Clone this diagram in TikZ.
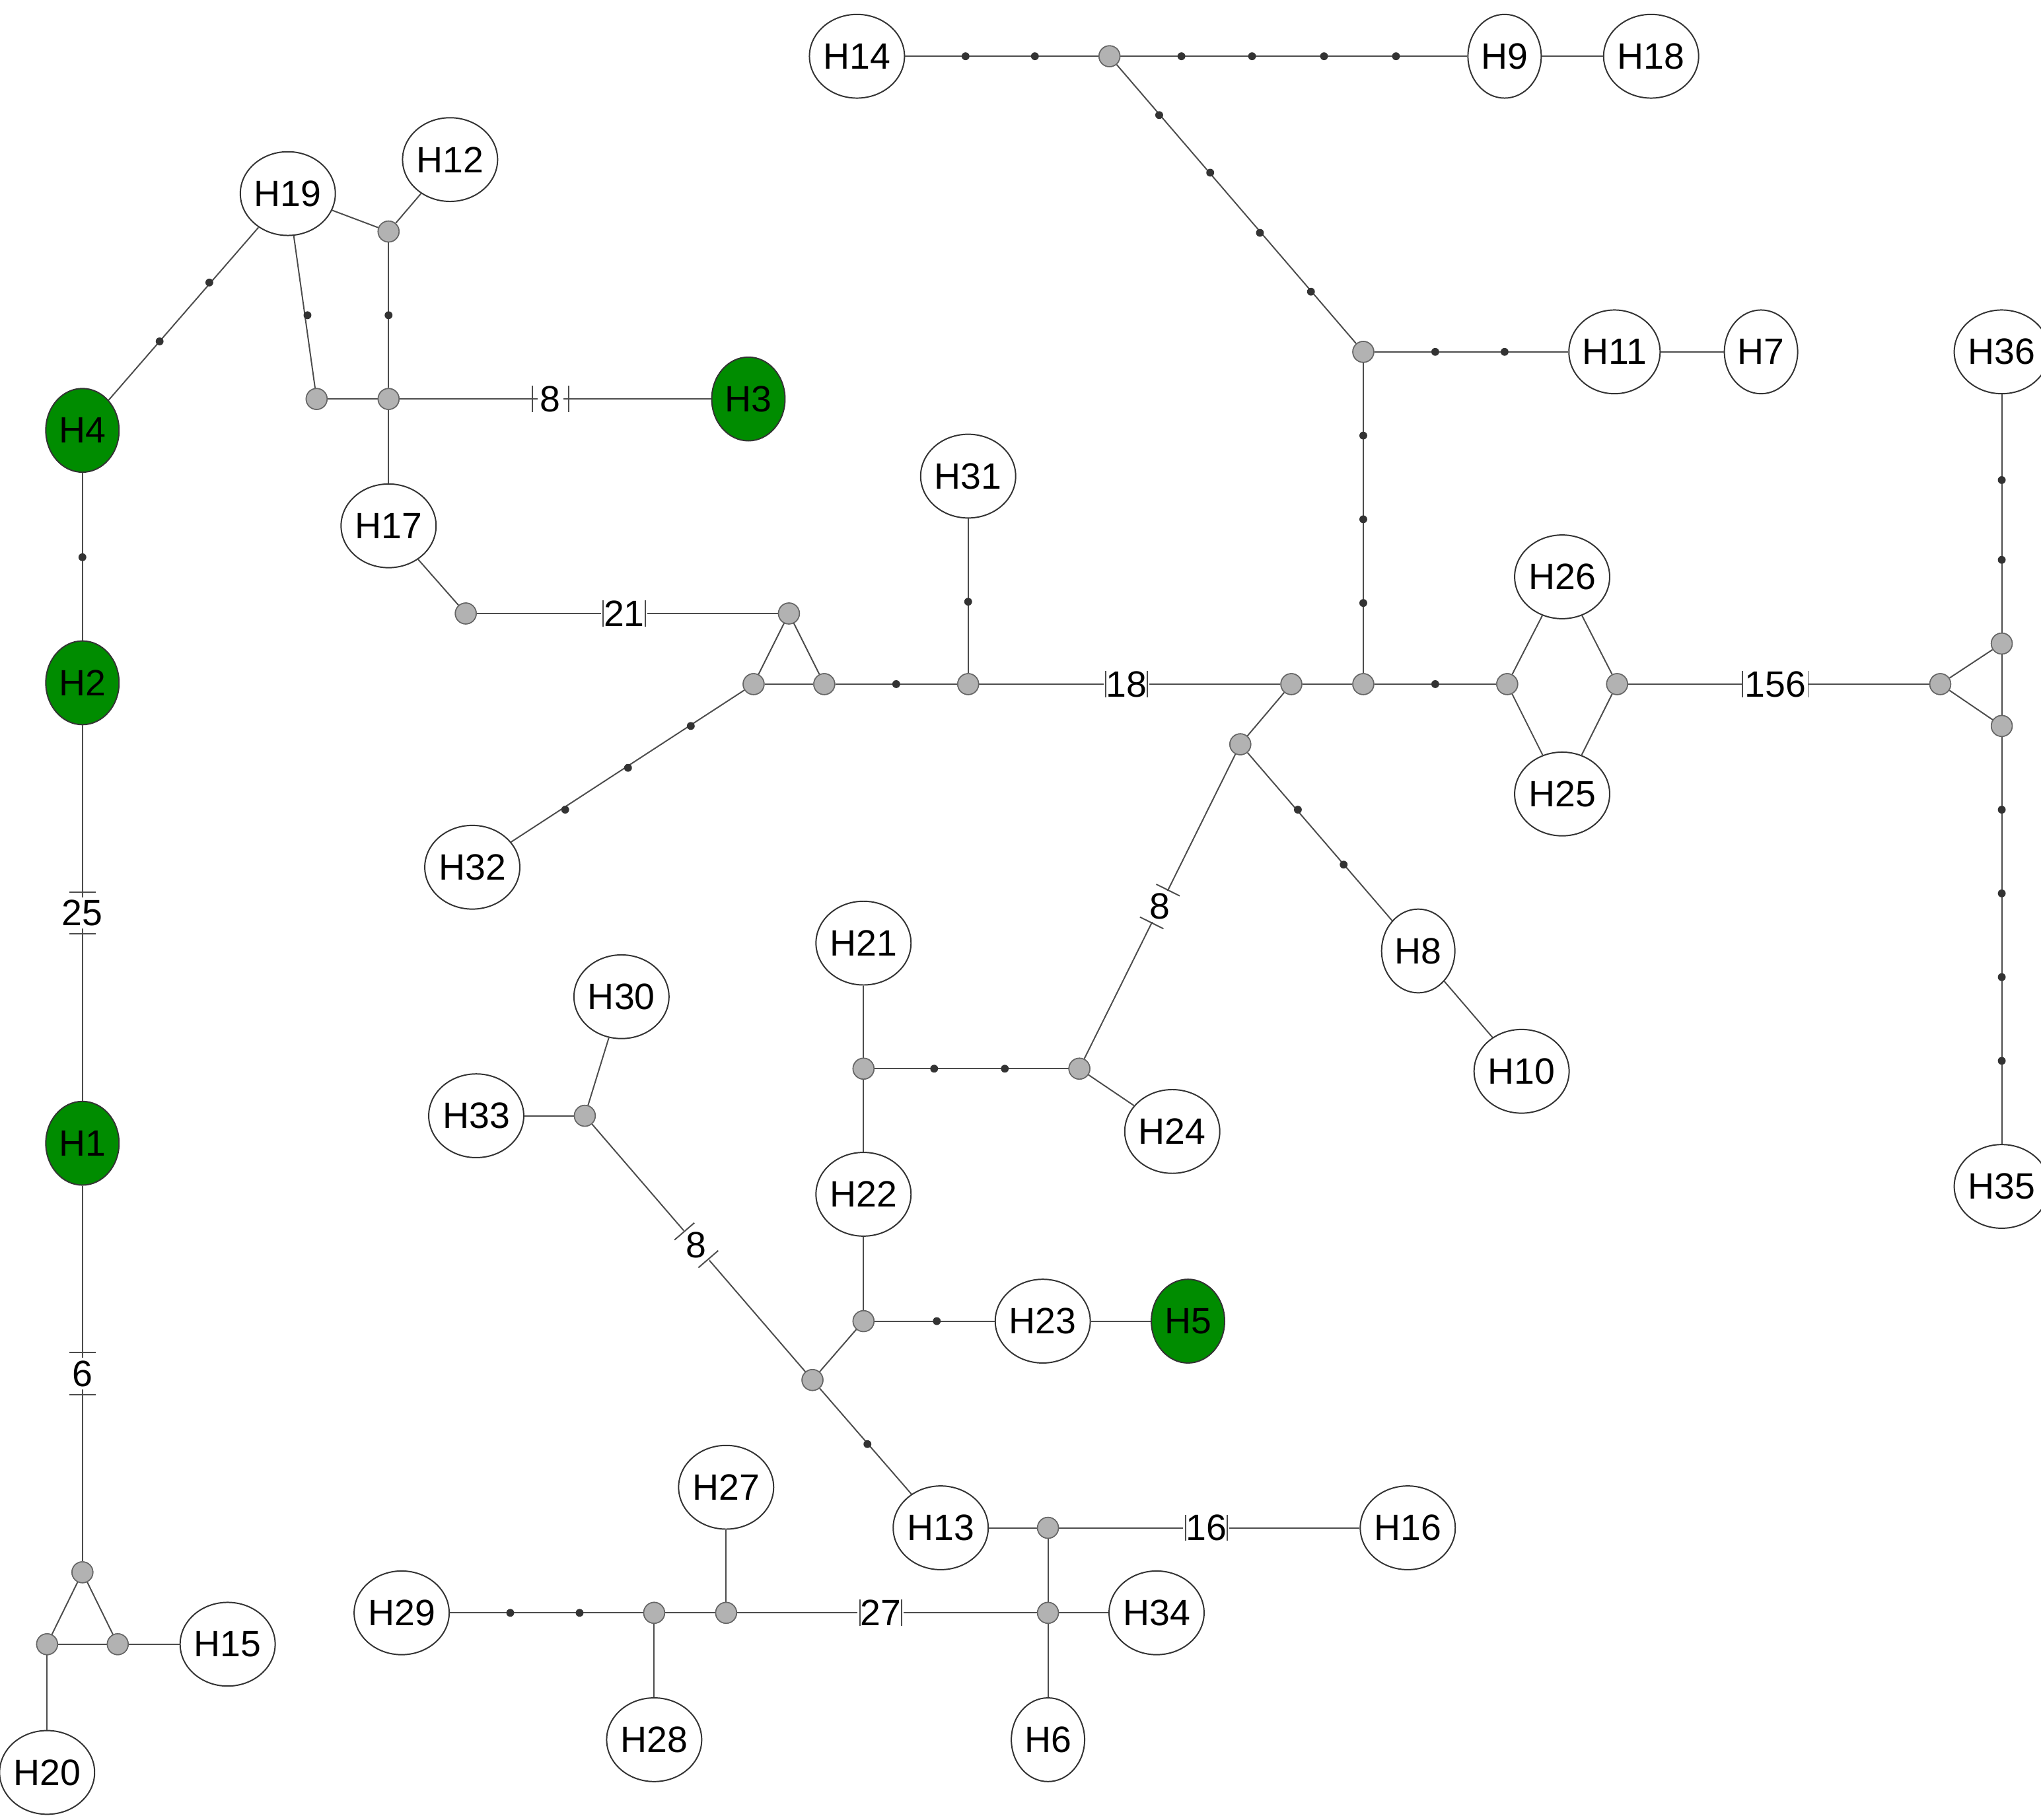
\documentclass[tikz,border=0pt]{standalone}
\usepackage{fontspec}
\setmainfont{Liberation Sans}
\usetikzlibrary{calc,shapes.geometric}
\tikzset{
 hap/.style={ellipse,draw=black!80,line width=0.5pt,fill=white,minimum width=28pt,minimum height=32pt,inner sep=0pt,font=\fontsize{14}{14}\selectfont},
 grn/.style={hap,fill=green!55!black},
 mv/.style={circle,draw=black!60,fill=black!30,line width=0.4pt,minimum size=8pt,inner sep=0pt},
 ln/.style={draw=black!70,line width=0.5pt},
 mutlab/.style={fill=white,inner sep=1pt,font=\fontsize{14}{14}\selectfont},
 dt/.style={fill=black!80}
}
\newcommand\mutl[5]{%
 \coordinate (mm) at ($(#1)!#3!(#2)$);
 \node[mutlab] at (mm) {#4};
 \draw[ln] ($(mm)!#5!(#1)!5pt!90:(#1)$) -- ($(mm)!#5!(#1)!5pt!-90:(#1)$);
 \draw[ln] ($(mm)!#5!(#2)!5pt!90:(#2)$) -- ($(mm)!#5!(#2)!5pt!-90:(#2)$);
}
\newcommand\dd[2]{\fill[dt] (#1,#2) circle (1.5pt);}
\begin{document}
\begin{tikzpicture}[x=0.5pt,y=-0.5pt]
\useasboundingbox (0,0) rectangle (1560,1391);
% nodes
\node[hap] (H14) at (655,43) {H14};
\node[hap] (H9) at (1150,43) {H9};
\node[hap] (H18) at (1262,43) {H18};
\node[hap] (H11) at (1234,269) {H11};
\node[hap] (H7) at (1346,269) {H7};
\node[hap] (H31) at (740,364) {H31};
\node[hap] (H26) at (1194,441) {H26};
\node[hap] (H25) at (1194,607) {H25};
\node[hap] (H36) at (1530,269) {H36};
\node[hap] (H35) at (1530,907) {H35};
\node[hap] (H32) at (361,663) {H32};
\node[hap] (H8) at (1084,727) {H8};
\node[hap] (H10) at (1163,819) {H10};
\node[hap] (H24) at (896,865) {H24};
\node[hap] (H21) at (660,721) {H21};
\node[hap] (H22) at (660,913) {H22};
\node[hap] (H23) at (797,1010) {H23};
\node[grn] (H5) at (908,1010) {H5};
\node[hap] (H33) at (364,853) {H33};
\node[hap] (H30) at (475,762) {H30};
\node[hap] (H13) at (719,1168) {H13};
\node[hap] (H16) at (1076,1168) {H16};
\node[hap] (H34) at (884,1233) {H34};
\node[hap] (H6) at (801,1330) {H6};
\node[hap] (H27) at (555,1137) {H27};
\node[hap] (H28) at (500,1330) {H28};
\node[hap] (H29) at (307,1233) {H29};
\node[grn] (H4) at (63,329) {H4};
\node[grn] (H2) at (63,522) {H2};
\node[grn] (H1) at (63,874) {H1};
\node[hap] (H15) at (174,1257) {H15};
\node[hap] (H20) at (36,1355) {H20};
\node[hap] (H19) at (220,148) {H19};
\node[hap] (H12) at (344,122) {H12};
\node[grn] (H3) at (572,305) {H3};
\node[hap] (H17) at (297,402) {H17};
% median vectors
\foreach \n/\x/\y in {g1/848/43,g2/1042/269,g3/1042/523,g4/576/523,g5/630/523,g6/740/523,g7/987/523,g8/1152/523,g9/1236/523,g10/1483/523,g11/603/469,g12/356/469,g13/1530/492,g14/1530/555,g15/948/569,g16/825/817,g17/660/817,g18/660/1010,g19/621/1055,g20/447/853,g21/801/1168,g22/801/1233,g23/555/1233,g24/500/1233,g25/63/1202,g26/36/1257,g27/90/1257,g28/297/177,g29/297/305,g30/242/305}
 \node[mv] (\n) at (\x,\y) {};
% edges
\begin{scope}[on background layer/.style={}]
\foreach \a/\b in {H14/g1,g1/H9,H9/H18,g1/g2,g2/H11,H11/H7,g2/g3,g4/g5,g5/g6,g7/g3,g3/g8,g4/g11,g5/g11,H31/g6,g8/H26,g8/H25,H26/g9,H25/g9,g10/g13,g10/g14,g13/g14,H36/g13,g14/H35,H32/g4,g7/g15,g15/H8,H8/H10,g16/H24,g16/g17,H21/g17,g17/H22,H22/g18,g18/H23,H23/H5,g18/g19,g20/H33,g20/H30,g19/H13,H13/g21,g21/g22,g22/H34,g22/H6,g23/H27,g23/g24,g24/H28,g24/H29,H4/H2,g25/g26,g25/g27,g26/g27,g27/H15,g26/H20,H4/H19,H19/g28,H12/g28,g28/g29,H19/g30,g30/g29,g29/H17,H17/g12}
 \draw[ln] (\a) -- (\b);
\end{scope}
% labelled edges
\foreach \a/\b in {g6/g7,g9/g10,g12/g11,g15/g16,g20/g19,g21/H16,g23/g22,H2/H1,H1/g25,g29/H3}
 \draw[ln] (\a) -- (\b);
\mutl{g6}{g7}{0.49}{18}{8pt}
\mutl{g9}{g10}{0.49}{156}{12.5pt}
\mutl{g12}{g11}{0.49}{21}{8pt}
\mutl{g15}{g16}{0.5}{8}{7pt}
\mutl{g20}{g19}{0.49}{8}{7pt}
\mutl{g21}{H16}{0.44}{16}{8pt}
\mutl{g23}{g22}{0.48}{27}{8pt}
\mutl{H2}{H1}{0.5}{25}{8pt}
\mutl{H1}{g25}{0.537}{6}{8pt}
\mutl{g29}{H3}{0.45}{8}{7pt}
% redraw medians on top
\foreach \n in {g1,g2,g3,g4,g5,g6,g7,g8,g9,g10,g11,g12,g13,g14,g15,g16,g17,g18,g19,g20,g21,g22,g23,g24,g25,g26,g27,g28,g29,g30}
 \node[mv] at (\n) {};
% mutation dots
\dd{738}{43}\dd{791}{43}
\dd{903}{43}\dd{957}{43}\dd{1012}{43}\dd{1067}{43}
\dd{886}{88}\dd{925}{132}\dd{963}{178}\dd{1002}{223}
\dd{1097}{269}\dd{1150}{269}
\dd{1042}{333}\dd{1042}{397}\dd{1042}{461}
\dd{685}{523}\dd{1097}{523}
\dd{740}{460}
\dd{1530}{367}\dd{1530}{428}
\dd{1530}{619}\dd{1530}{683}\dd{1530}{747}\dd{1530}{811}
\dd{432}{619}\dd{480}{587}\dd{528}{555}
\dd{992}{619}\dd{1027}{661}
\dd{714}{817}\dd{768}{817}
\dd{716}{1010}
\dd{663}{1104}
\dd{390}{1233}\dd{443}{1233}
\dd{63}{426}
\dd{122}{261}\dd{160}{216}
\dd{297}{241}\dd{235}{241}
\end{tikzpicture}
\end{document}
